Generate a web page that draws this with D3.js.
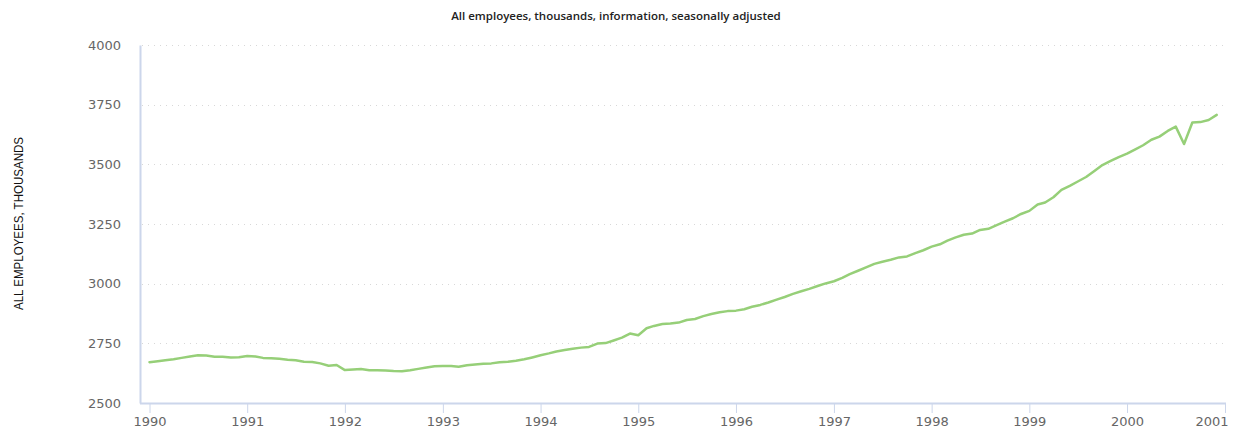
<!DOCTYPE html>
<html>
<head>
<meta charset="utf-8">
<script src="https://cdn.jsdelivr.net/npm/d3@7"></script>
<style>
  html, body { margin: 0; padding: 0; background: #fff; }
  svg { display: block; }
</style>
</head>
<body>
<svg id="chart" width="1235" height="432"></svg>
<script>
// ---- data ----
const title = "All employees, thousands, information, seasonally adjusted";
const yLabel = "ALL EMPLOYEES, THOUSANDS";
const startYear = 1990;
// monthly values, Jan 1990 .. Dec 2000
const employees = [
  2671, 2675, 2679, 2683, 2689, 2695, 2700, 2699, 2694, 2694, 2691, 2692, // 1990
  2697, 2695, 2689, 2688, 2685, 2681, 2679, 2673, 2672, 2666, 2656, 2659, // 1991
  2638, 2640, 2642, 2637, 2637, 2636, 2634, 2633, 2637, 2643, 2649, 2654, // 1992
  2655, 2655, 2652, 2658, 2661, 2664, 2666, 2671, 2673, 2677, 2683, 2691, // 1993
  2700, 2708, 2716, 2722, 2727, 2732, 2735, 2749, 2751, 2762, 2774, 2791, // 1994
  2784, 2813, 2823, 2831, 2833, 2837, 2848, 2852, 2864, 2873, 2880, 2885, // 1995
  2887, 2893, 2903, 2911, 2921, 2933, 2944, 2957, 2968, 2978, 2990, 3001, // 1996
  3010, 3024, 3040, 3054, 3068, 3083, 3092, 3100, 3110, 3114, 3128, 3140, // 1997
  3155, 3165, 3180, 3194, 3205, 3210, 3225, 3230, 3245, 3260, 3274, 3292, // 1998
  3305, 3332, 3340, 3362, 3393, 3410, 3428, 3447, 3472, 3497, 3514, 3530, // 1999
  3545, 3563, 3580, 3603, 3616, 3640, 3658, 3585, 3675, 3677, 3686, 3707  // 2000
];
const xTickYears = [1990, 1991, 1992, 1993, 1994, 1995, 1996, 1997, 1998, 1999, 2000, 2001];
const yTicks = [2500, 2750, 3000, 3250, 3500, 3750, 4000];

// ---- layout ----
const svg = d3.select("#chart");
const plot = { left: 140, right: 1225, top: 45, bottom: 403 };
const firstX = 149.5;

const dates = employees.map((v, i) => new Date(startYear, i, 1));

const x = d3.scaleTime()
  .domain([new Date(1990, 0, 1), new Date(2001, 0, 1)])
  .range([firstX, plot.right]);
const y = d3.scaleLinear().domain([2500, 4000]).range([plot.bottom, plot.top]);

// title
svg.append("text")
  .attr("x", 616).attr("y", 20)
  .attr("text-anchor", "middle")
  .attr("font-family", "'Open Sans', sans-serif")
  .attr("font-size", 11.5).attr("font-weight", 600)
  .attr("fill", "#222")
  .text(title);

// y axis title
svg.append("text")
  .attr("transform", "translate(23,223.5) rotate(-90)")
  .attr("text-anchor", "middle")
  .attr("font-family", "'Liberation Sans', Arial, sans-serif")
  .attr("font-size", 12)
  .attr("textLength", 173)
  .attr("lengthAdjust", "spacingAndGlyphs")
  .attr("fill", "#111")
  .text(yLabel);

// gridlines
svg.append("g").selectAll("line").data(yTicks.filter(t => t !== 2500)).join("line")
  .attr("x1", plot.left + 2).attr("x2", plot.right)
  .attr("y1", d => Math.round(y(d)) + 0.5).attr("y2", d => Math.round(y(d)) + 0.5)
  .attr("stroke", "#d8d8d8").attr("stroke-width", 1)
  .attr("stroke-dasharray", "1,5");

// y axis
const yAxis = d3.axisLeft(y).tickValues(yTicks).tickSize(0).tickPadding(19).tickFormat(d3.format("d"));
const gy = svg.append("g").attr("transform", `translate(${plot.left},0)`).call(yAxis);
gy.select(".domain").attr("stroke", "#ccd6eb").attr("stroke-width", 2);
gy.selectAll("text")
  .attr("font-family", "'DejaVu Sans', sans-serif")
  .attr("font-size", 13).attr("fill", "#666");

// x axis
const xAxis = d3.axisBottom(x)
  .tickValues(xTickYears.map(yv => new Date(yv, 0, 1)))
  .tickSize(10).tickPadding(4)
  .tickFormat(d3.timeFormat("%Y"));
const gx = svg.append("g").attr("transform", `translate(0,${plot.bottom})`).call(xAxis);
gx.select(".domain").attr("d", `M${plot.left},0.5H${plot.right + 1}`)
  .attr("stroke", "#ccd6eb").attr("stroke-width", 2);
gx.selectAll(".tick line").attr("stroke", "#ccd6eb").attr("stroke-width", 1);
gx.selectAll("text")
  .attr("font-family", "'DejaVu Sans', sans-serif")
  .attr("font-size", 13).attr("fill", "#666");
gx.selectAll(".tick").filter(d => d.getFullYear() === 2001)
  .select("text").attr("text-anchor", "end").attr("dx", 3);

// line
const line = d3.line().x((d, i) => x(dates[i])).y(d => y(d));
svg.append("path")
  .datum(employees)
  .attr("d", line)
  .attr("fill", "none")
  .attr("stroke", "#96cf78")
  .attr("stroke-width", 2.5)
  .attr("stroke-linejoin", "round")
  .attr("stroke-linecap", "round");
</script>
</body>
</html>
